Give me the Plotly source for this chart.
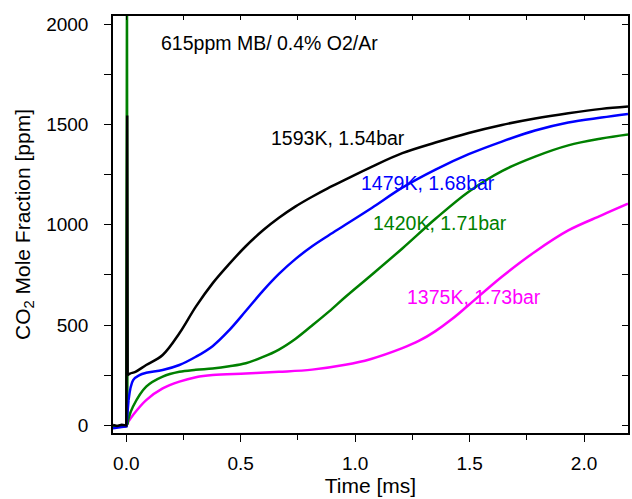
import plotly.graph_objects as go

# ---------------- data ----------------
black_t = [-0.058, -0.04, -0.02, -0.005, 0.0, 0.004, 0.006, 0.016, 0.04, 0.087, 0.159, 0.232, 0.304,
           0.377, 0.45, 0.522, 0.6, 0.667, 0.74, 0.812, 0.88, 0.957, 1.074, 1.206, 1.351, 1.496,
           1.641, 1.786, 1.931, 2.076, 2.192]
black_v = [2, -3, 3, 0, 0, 1545, 250, 258, 267, 301, 351, 459, 592, 708, 805, 893, 975, 1035,
           1092, 1140, 1182, 1225, 1290, 1357, 1410, 1458, 1498, 1530, 1556, 1578, 1590]

blue_t = [-0.058, -0.04, -0.02, 0.0, 0.005, 0.01, 0.03, 0.058, 0.087, 0.159, 0.232, 0.304, 0.377,
          0.45, 0.522, 0.595, 0.667, 0.74, 0.812, 0.885, 0.957, 1.074, 1.206, 1.351, 1.496, 1.641,
          1.786, 1.931, 2.076, 2.192]
blue_v = [-15, -10, -8, -5, 60, 126, 226, 251, 262, 276, 301, 342, 395, 475, 570, 668, 755, 830,
          893, 948, 1000, 1085, 1185, 1275, 1352, 1415, 1470, 1510, 1535, 1553]

green_t = [-0.058, -0.03, -0.01, 0.0, 0.003, 0.005, 0.01, 0.029, 0.087, 0.159, 0.232, 0.304, 0.377,
           0.45, 0.522, 0.595, 0.667, 0.74, 0.812, 0.885, 0.957, 1.066, 1.206, 1.351, 1.496, 1.641,
           1.786, 1.931, 2.076, 2.192]
green_v = [-6, -4, -5, -3, 2200, 5, 35, 93, 193, 243, 267, 277, 284, 295, 310, 340, 378, 432, 498,
           567, 640, 745, 882, 1030, 1165, 1268, 1340, 1396, 1430, 1450]

magenta_t = [-0.058, -0.03, -0.01, 0.0, 0.01, 0.029, 0.087, 0.159, 0.232, 0.304, 0.377, 0.522,
             0.667, 0.812, 0.957, 1.066, 1.206, 1.28, 1.351, 1.423, 1.496, 1.641, 1.786, 1.931,
             2.076, 2.192]
magenta_v = [-6, -5, -6, -5, 20, 51, 126, 184, 218, 240, 251, 259, 267, 278, 302, 330, 385, 422,
             470, 530, 600, 741, 866, 972, 1047, 1105]

labels = ["1375K, 1.73bar", "1420K, 1.71bar", "1479K, 1.68bar", "1593K, 1.54bar"]
colors = ["#ff00ff", "#008000", "#0000ff", "#000000"]
# index where the (linear) shock-arrival spike part ends and the smooth rise begins
spike_end = [4, 6, 6, 7]

series = list(zip(labels, [magenta_t, green_t, blue_t, black_t],
                  [magenta_v, green_v, blue_v, black_v], colors, spike_end))

x_range = [-0.058, 2.192]
y_range = [-38, 2041]

FONT = "Liberation Sans, Arial, sans-serif"

fig = go.Figure()
for name, t, v, c, k in series:
    fig.add_trace(go.Scatter(x=t[:k], y=v[:k], mode="lines", name=name,
                             line=dict(color=c, width=2.5), showlegend=False))
    fig.add_trace(go.Scatter(x=t[k - 1:], y=v[k - 1:], mode="lines", name=name,
                             line=dict(color=c, width=2.5, shape="spline", smoothing=1.0),
                             showlegend=False))

# empty trace so the mirrored (inside-tick) axes are drawn
fig.add_trace(go.Scatter(x=[], y=[], xaxis="x2", yaxis="y2", showlegend=False, hoverinfo="skip"))

annotations = [
    dict(text="615ppm MB/ 0.4% O2/Ar", x=0.142, y=1907, color="#000000"),
    dict(text="1593K, 1.54bar", x=0.625, y=1435, color="#000000"),
    dict(text="1479K, 1.68bar", x=1.017, y=1210, color="#0000ff"),
    dict(text="1420K, 1.71bar", x=1.069, y=1010, color="#008000"),
    dict(text="1375K, 1.73bar", x=1.217, y=641, color="#ff00ff"),
]
for a in annotations:
    fig.add_annotation(x=a["x"], y=a["y"], xref="x", yref="y", text=a["text"], showarrow=False,
                       xanchor="left", yanchor="middle",
                       font=dict(family=FONT, size=19.5, color=a["color"]))

fig.update_layout(
    width=632, height=499,
    margin=dict(l=113, r=2, t=16, b=66),
    paper_bgcolor="white", plot_bgcolor="white",
    font=dict(family=FONT, color="black"),
    xaxis=dict(range=x_range, showgrid=False, zeroline=False, showline=True, linecolor="black",
               linewidth=1.5, mirror=True, ticks="outside", ticklen=7, tickwidth=1.2,
               tickcolor="black", tick0=0, dtick=0.5, tickformat=".1f",
               tickfont=dict(size=19, family=FONT), ticklabelstandoff=5,
               minor=dict(ticks="outside", ticklen=5, tickwidth=1.2, tickcolor="black",
                          tick0=0, dtick=0.25, showgrid=False),
               title=dict(text="Time [ms]", font=dict(size=21, family=FONT), standoff=6)),
    yaxis=dict(range=y_range, showgrid=False, zeroline=False, showline=True, linecolor="black",
               linewidth=1.5, mirror=True, ticks="outside", ticklen=7, tickwidth=1.2,
               tickcolor="black", tick0=0, dtick=500,
               tickfont=dict(size=19, family=FONT), ticklabelstandoff=12,
               minor=dict(ticks="outside", ticklen=7, tickwidth=1.2, tickcolor="black",
                          tick0=0, dtick=250, showgrid=False),
               title=dict(text="CO<sub>2</sub> Mole Fraction [ppm]",
                          font=dict(size=21, family=FONT), standoff=10)),
    xaxis2=dict(range=x_range, overlaying="x", side="top", showgrid=False, zeroline=False,
                showline=False, ticks="inside", ticklen=4, tickwidth=1.2, tickcolor="black",
                tick0=0, dtick=0.25, showticklabels=False),
    yaxis2=dict(range=y_range, overlaying="y", side="right", showgrid=False, zeroline=False,
                showline=False, ticks="inside", ticklen=6, tickwidth=1.2, tickcolor="black",
                tick0=0, dtick=250, showticklabels=False),
)

fig.write_html("out.html")
